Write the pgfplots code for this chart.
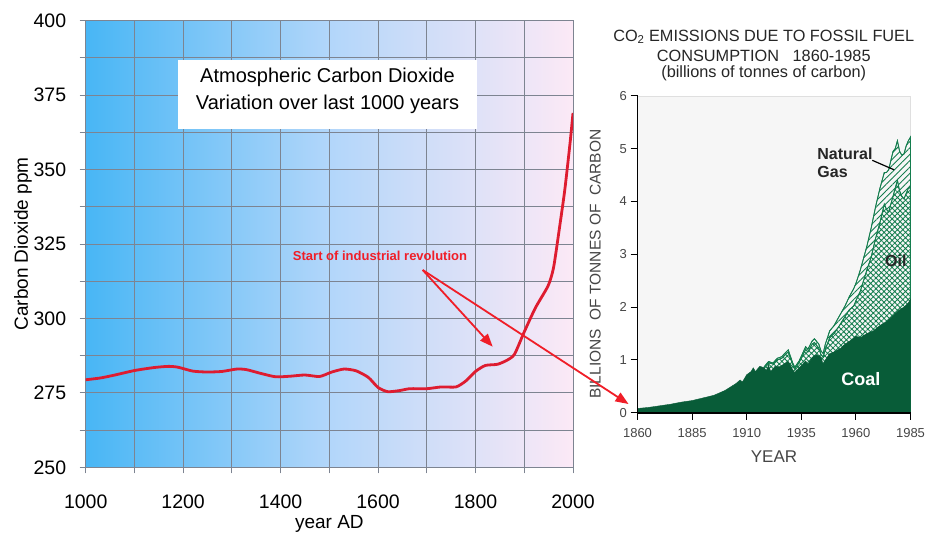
\documentclass[border=0pt]{standalone}
\usepackage{pgfplots}
\pgfplotsset{compat=1.18}
\usepackage{fontspec}
\setmainfont{Liberation Sans}
\usetikzlibrary{patterns,patterns.meta,arrows.meta}
\definecolor{gridc}{RGB}{125,132,145}
\definecolor{cL}{RGB}{72,182,245}
\definecolor{cM}{RGB}{178,214,250}
\definecolor{cR}{RGB}{252,233,246}
\definecolor{redline}{RGB}{222,28,48}
\definecolor{redtxt}{RGB}{240,30,40}
\definecolor{cg}{RGB}{8,92,56}
\definecolor{hg}{RGB}{20,125,78}
\definecolor{bgg}{RGB}{246,246,246}
\definecolor{tickc}{RGB}{70,70,70}
\begin{document}
\begin{tikzpicture}[x=1pt,y=1pt]
\useasboundingbox (0,0) rectangle (925,536);
\fill[white] (0,0) rectangle (925,536);
% ---------------- left chart
\begin{axis}[at={(85.7pt,68.7pt)}, anchor=south west, scale only axis,
  width=487.3pt, height=446.6pt,
  xmin=1000, xmax=2000, ymin=250, ymax=400,
  xtick={1000,1200,...,2000}, minor xtick={1100,1300,...,1900},
  ytick={250,275,...,400}, minor ytick={262.5,287.5,...,387.5},
  grid=both,
  major grid style={gridc, line width=0.9pt},
  minor grid style={gridc, line width=0.9pt},
  axis line style={gridc, line width=1pt},
  tick style={gridc, line width=1pt},
  tick align=outside, major tick length=6pt, minor tick length=6pt,
  xtick pos=bottom, ytick pos=left,
  /pgf/number format/assume math mode=true,
  /pgf/number format/set thousands separator={},
  ticklabel style={font=\fontsize{19.5}{22}\selectfont, text=black},
  xticklabel style={yshift=-18pt},
  yticklabel style={xshift=-10pt},
  xlabel={year AD}, ylabel={Carbon Dioxide ppm},
  ylabel shift=-5pt,
  label style={font=\fontsize{19}{22}\selectfont},
  axis background/.style={left color=cL, right color=cR, middle color=cM},
]
\addplot[redline, line width=2.8pt, smooth, tension=0.4] coordinates {
(1000,279.4) (1030,280) (1060,281) (1100,282.5) (1140,283.5) (1170,283.9) (1190,283.6)
(1220,282.3) (1250,282) (1280,282.2) (1310,283) (1330,282.8) (1360,281.5) (1390,280.4)
(1420,280.6) (1450,281) (1480,280.5) (1505,282) (1530,283) (1555,282.4) (1580,280.2)
(1600,276.8) (1620,275.4) (1645,275.8) (1665,276.4) (1700,276.4) (1730,277) (1760,277)
(1780,279) (1800,282.2) (1820,284.2) (1845,284.6) (1865,286) (1880,288) (1900,295.5)
(1923,303.6) (1949,311) (1960,317) (1971,329) (1983,343) (1994,359) (2000,369)
};
\end{axis}
% title box
\fill[white] (178,407) rectangle (477,476);
\node[align=center, font=\fontsize{20}{26.5}\selectfont] at (327.5,445) {Atmospheric Carbon Dioxide\\Variation over last 1000 years};
% ---------------- right chart
\begin{axis}[at={(637.5pt,123.3pt)}, anchor=south west, scale only axis,
  width=273pt, height=316.8pt,
  xmin=1860, xmax=1985, ymin=0, ymax=6,
  xtick={1860,1885,...,1985}, ytick={0,1,...,6},
  axis x line*=bottom, axis y line*=left,
  axis line style={black, line width=1.6pt, -},
  tick style={black, line width=1pt},
  tick align=outside, major tick length=7pt,
  axis on top,
  /pgf/number format/assume math mode=true,
  /pgf/number format/set thousands separator={},
  ticklabel style={font=\fontsize{13}{15}\selectfont, text=tickc},
  xticklabel style={yshift=-5pt},
  xlabel={YEAR},
  xlabel style={font=\fontsize{17}{19}\selectfont, text=tickc, yshift=-6pt},
  ylabel={BILLIONS\ \ OF TONNES OF\ \ CARBON},
  ylabel style={font=\fontsize{15.5}{17}\selectfont, text=tickc, at={(axis description cs:-0.155,0.469)}, anchor=center},
  axis background/.style={fill=bgg, draw=gray!25},
  clip=false,
]
% natural gas (total)
\addplot[draw=hg, line width=0.8pt, fill=bgg, postaction={pattern={Lines[angle=45,distance=4.5pt,line width=0.9pt]}, pattern color=hg}] coordinates {
(1918,0.87) (1920,0.97) (1922,0.94) (1924,1.03) (1926,1.06) (1929,1.19) (1931,0.95) (1932,0.86)
(1934,0.98) (1937,1.25) (1938,1.20) (1940,1.36) (1941,1.40) (1943,1.30) (1944,1.17) (1945,1.12)
(1946,1.30) (1948,1.55) (1950,1.65) (1952,1.80) (1955,2.02) (1957,2.20) (1959,2.35) (1960,2.45)
(1962,2.70) (1965,3.15) (1967,3.50) (1969,3.90) (1971,4.25) (1973,4.55) (1974,4.55) (1975,4.60)
(1977,4.95) (1978,5.00) (1979,5.15) (1980,4.95) (1981,4.88) (1982,4.90) (1983,5.05) (1984,5.15) (1985,5.22)
} \closedcycle;
% oil (coal + oil)
\addplot[draw=hg, line width=0.8pt, fill=bgg, postaction={pattern={Hatch[angle=45,distance=3.8pt,line width=0.85pt]}, pattern color=hg}] coordinates {
(1918,0.86) (1920,0.95) (1922,0.92) (1924,1.00) (1926,1.03) (1929,1.15) (1931,0.92) (1932,0.83)
(1934,0.95) (1937,1.20) (1938,1.15) (1940,1.30) (1941,1.33) (1943,1.22) (1944,1.10) (1945,1.05)
(1946,1.20) (1948,1.42) (1950,1.50) (1952,1.62) (1955,1.82) (1957,1.95) (1959,2.02) (1960,2.12)
(1962,2.30) (1965,2.70) (1967,2.95) (1969,3.30) (1971,3.60) (1973,3.95) (1974,3.85) (1975,3.80)
(1977,4.10) (1978,4.25) (1979,4.40) (1980,4.20) (1981,4.10) (1982,4.05) (1983,4.15) (1984,4.25) (1985,4.30)
} \closedcycle;
% coal
\addplot[draw=cg, fill=cg] coordinates {
(1860,0.08) (1865,0.10) (1870,0.13) (1875,0.16) (1880,0.20) (1885,0.23) (1890,0.28) (1895,0.33)
(1900,0.42) (1905,0.55) (1907,0.62) (1908,0.58) (1910,0.72) (1912,0.78) (1913,0.85) (1914,0.78)
(1916,0.88) (1918,0.85) (1919,0.80) (1920,0.90) (1921,0.78) (1923,0.88) (1925,0.87) (1927,0.92)
(1929,0.97) (1931,0.82) (1932,0.76) (1934,0.85) (1937,0.98) (1938,0.92) (1940,1.05) (1942,1.10)
(1944,1.05) (1945,0.92) (1946,1.00) (1948,1.12) (1950,1.15) (1953,1.22) (1955,1.30) (1958,1.38)
(1960,1.45) (1962,1.42) (1965,1.50) (1968,1.55) (1970,1.62) (1972,1.68) (1974,1.72) (1976,1.80)
(1978,1.88) (1980,1.95) (1982,2.00) (1984,2.08) (1985,2.15)
} \closedcycle;
\node[align=left, font=\fontsize{16}{18}\selectfont\bfseries, text=black!85] at (axis cs:1955,4.74) {Natural\\Gas};
\draw[black, line width=1.2pt] (axis cs:1967.5,4.78) -- (axis cs:1977.5,4.6);
\node[font=\fontsize{16}{18}\selectfont\bfseries, text=black!85] at (axis cs:1978.3,2.88) {Oil};
\node[font=\fontsize{18}{20}\selectfont\bfseries, text=white] at (axis cs:1962.3,0.64) {Coal};
\end{axis}
% right title
\node[font=\fontsize{16.3}{18}\selectfont, text=black!85] at (763.7,499) {CO\textsubscript{2} EMISSIONS DUE TO FOSSIL FUEL};
\node[font=\fontsize{16.3}{18}\selectfont, text=black!85] at (763.7,480.5) {CONSUMPTION\ \ \ 1860-1985};
\node[font=\fontsize{16.3}{18}\selectfont, text=black!85] at (763.7,463) {(billions of tonnes of carbon)};
% annotation
\node[font=\fontsize{13}{15}\selectfont\bfseries, text=redtxt] at (380,280) {Start of industrial revolution};
\draw[redtxt, line width=1.8pt, -{Triangle[length=13pt,width=10pt]}] (422.7,266) -- (492.7,189.3);
\draw[redtxt, line width=1.8pt, -{Triangle[length=13pt,width=10pt]}] (422.7,266) -- (628.5,132);
\end{tikzpicture}
\end{document}
